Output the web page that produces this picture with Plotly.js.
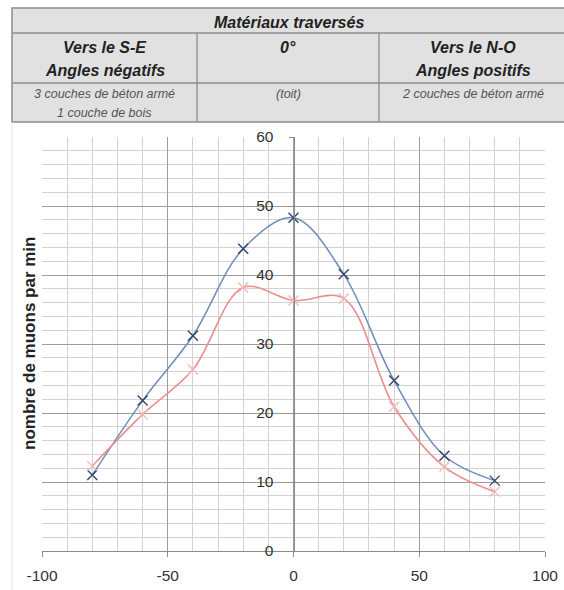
<!DOCTYPE html>
<html><head><meta charset="utf-8">
<script src="https://cdn.plot.ly/plotly-3.0.1.min.js"></script>
<style>html,body{margin:0;padding:0;background:#fff;}#chart{width:564px;height:590px;}</style>
</head><body><div id="chart"></div>
<script>
// Data
const angles = [-80, -60, -40, -20, 0, 20, 40, 60, 80];
const seriesBlue = [11.0, 21.8, 31.2, 43.8, 48.3, 40.1, 24.7, 13.8, 10.2];
const seriesRed = [12.3, 19.8, 26.3, 38.2, 36.3, 36.6, 20.9, 12.2, 8.6];
const xTicks = [-100, -50, 0, 50, 100];
const yTicks = [0, 10, 20, 30, 40, 50, 60];
const tableHeader = "Matériaux traversés";
const colHeads = [["Vers le S-E", "Angles négatifs"], ["0°", ""], ["Vers le N-O", "Angles positifs"]];
const colNotes = [["3 couches de béton armé", "1 couche de bois"], ["(toit)"], ["2 couches de béton armé"]];
const yTitle = "nombre de muons par min";

const W = 564, H = 590;
const M = {l: 42, r: 19, t: 137, b: 39};
const PW = W - M.l - M.r, PH = H - M.t - M.b;
const font = "Liberation Sans, Arial, sans-serif";
// pixel -> paper (paper is relative to the plot area)
const px = v => (v - M.l) / PW, py = v => (H - M.b - v) / PH;

const traces = [
  {x: angles, y: seriesBlue, type: 'scatter', mode: 'lines+markers',
   line: {shape: 'spline', smoothing: 1, color: '#6d8cbb', width: 1.5},
   marker: {symbol: 'x-thin', size: 10, line: {color: '#34446a', width: 1.4}},
   hoverinfo: 'x+y'},
  {x: angles, y: seriesRed, type: 'scatter', mode: 'lines+markers',
   line: {shape: 'spline', smoothing: 1, color: '#ec8e8e', width: 1.6},
   marker: {symbol: 'x-thin', size: 10, line: {color: '#f4b6b6', width: 1.3}},
   hoverinfo: 'x+y'}
];

// table geometry (pixels)
const tL = 12, tR = 566, tT = 8, r1 = 33, r2 = 83, tB = 122, c1 = 197, c2 = 379;
const bc = '#8c8c8c';
const shapes = [
  {type: 'rect', xref: 'paper', yref: 'paper', x0: px(tL), x1: px(tR), y0: py(tT), y1: py(tB),
   fillcolor: '#e1e1e1', line: {color: bc, width: 1.5}, layer: 'below'},
  {type: 'line', xref: 'paper', yref: 'paper', x0: px(tL), x1: px(tR), y0: py(r1), y1: py(r1), line: {color: bc, width: 1.3}},
  {type: 'line', xref: 'paper', yref: 'paper', x0: px(tL), x1: px(tR), y0: py(r2), y1: py(r2), line: {color: bc, width: 1.3}},
  {type: 'line', xref: 'paper', yref: 'paper', x0: px(c1), x1: px(c1), y0: py(r1), y1: py(tB), line: {color: bc, width: 1.3}},
  {type: 'line', xref: 'paper', yref: 'paper', x0: px(c2), x1: px(c2), y0: py(r1), y1: py(tB), line: {color: bc, width: 1.3}},
  {type: 'line', xref: 'paper', yref: 'paper', x0: px(tL), x1: px(tL), y0: py(tB), y1: py(590), line: {color: '#e6e6e6', width: 1}}
];

const colCenters = [(tL + c1) / 2, (c1 + c2) / 2, (c2 + tR) / 2];
const ann = [];
ann.push({xref: 'paper', yref: 'paper', x: px((tL + tR) / 2), y: py(22), text: '<b><i>' + tableHeader + '</i></b>',
  showarrow: false, font: {family: font, size: 16, color: '#222'}, xanchor: 'center', yanchor: 'middle'});
colHeads.forEach((h, i) => {
  ann.push({xref: 'paper', yref: 'paper', x: px(colCenters[i]), y: py(48), text: '<b><i>' + h[0] + '</i></b>',
    showarrow: false, font: {family: font, size: 16, color: '#222'}, xanchor: 'center', yanchor: 'middle'});
  if (h[1]) ann.push({xref: 'paper', yref: 'paper', x: px(colCenters[i]), y: py(71), text: '<b><i>' + h[1] + '</i></b>',
    showarrow: false, font: {family: font, size: 16, color: '#222'}, xanchor: 'center', yanchor: 'middle'});
});
colNotes.forEach((n, i) => {
  n.forEach((t, j) => {
    ann.push({xref: 'paper', yref: 'paper', x: px(colCenters[i]), y: py(94 + j * 19), text: '<i>' + t + '</i>',
      showarrow: false, font: {family: font, size: 12.5, color: '#555'}, xanchor: 'center', yanchor: 'middle'});
  });
});
ann.push({xref: 'paper', yref: 'paper', x: px(29), y: py(344), text: '<b>' + yTitle + '</b>', textangle: -90,
  showarrow: false, font: {family: font, size: 17, color: '#222'}, xanchor: 'center', yanchor: 'middle'});

const layout = {
  width: W, height: H, paper_bgcolor: '#fff', plot_bgcolor: '#fff', showlegend: false,
  margin: M,
  xaxis: {range: [-100, 100], tickvals: xTicks, ticktext: xTicks.map(String), showgrid: true, gridcolor: '#9c9c9c', gridwidth: 1,
    minor: {dtick: 10, showgrid: true, gridcolor: '#d2d2d2', gridwidth: 1},
    zeroline: false, showline: true, linecolor: '#8c8c8c', ticks: 'outside', ticklen: 5, tickcolor: '#8c8c8c',
    ticklabelstandoff: 5, tickfont: {family: font, size: 15.5, color: '#333'}, fixedrange: true},
  yaxis: {range: [0, 60], tickvals: yTicks, ticktext: yTicks.map(String), showgrid: true, gridcolor: '#9c9c9c', gridwidth: 1,
    minor: {dtick: 2, showgrid: true, gridcolor: '#d2d2d2', gridwidth: 1},
    anchor: 'free', position: 0.5, zeroline: false, showline: true, linecolor: '#8c8c8c', ticks: 'outside', ticklen: 5,
    tickcolor: '#8c8c8c', ticklabelstandoff: 12, tickfont: {family: font, size: 15.5, color: '#333'}, fixedrange: true},
  shapes: shapes, annotations: ann
};
Plotly.newPlot('chart', traces, layout, {displayModeBar: false, staticPlot: true});
</script></body></html>
